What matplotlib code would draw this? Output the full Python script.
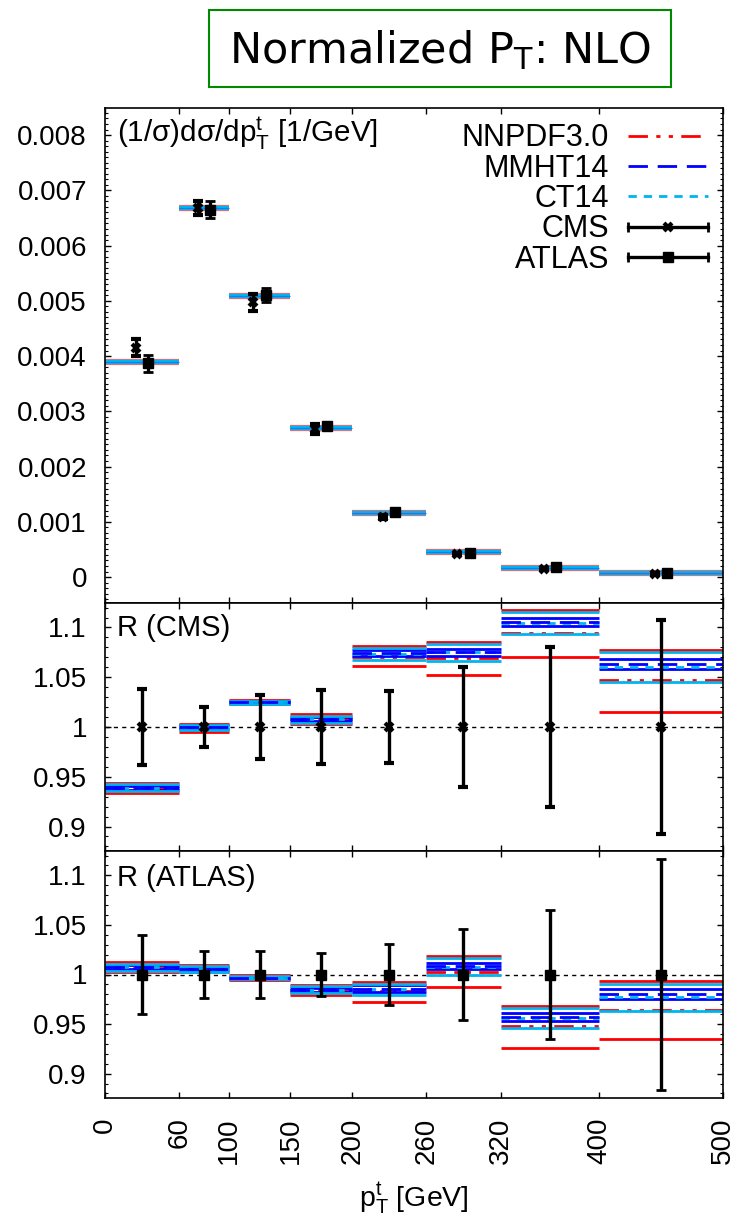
import matplotlib
matplotlib.use("Agg")
import matplotlib.pyplot as plt
from matplotlib.lines import Line2D
from matplotlib.legend_handler import HandlerLine2D
from matplotlib.patches import Rectangle
from matplotlib.ticker import MultipleLocator, FormatStrFormatter

plt.rcParams['font.family'] = ['Liberation Sans', 'DejaVu Sans']
plt.rcParams['font.size'] = 20
plt.rcParams['mathtext.fontset'] = 'custom'
plt.rcParams['mathtext.rm'] = 'Liberation Sans'
plt.rcParams['mathtext.it'] = 'Liberation Sans:italic'

# bins in p_T^t [GeV]
edges = [0, 60, 100, 150, 200, 260, 320, 400, 500]
centers = [30, 80, 125, 175, 230, 290, 360, 450]

# main panel: normalized cross section [1/GeV]
th_main = [3.897e-3, 6.68e-3, 5.09e-3, 2.70e-3, 1.164e-3, 0.447e-3, 0.169e-3, 0.066e-3]
cms_val = [4.15e-3, 6.68e-3, 4.97e-3, 2.68e-3, 1.083e-3, 0.416e-3, 0.154e-3, 0.062e-3]
cms_err = [0.158e-3, 0.134e-3, 0.159e-3, 0.099e-3, 0.039e-3, 0.025e-3, 0.012e-3, 0.0067e-3]
atl_val = [3.87e-3, 6.65e-3, 5.11e-3, 2.74e-3, 1.18e-3, 0.443e-3, 0.176e-3, 0.067e-3]
atl_err = [0.155e-3, 0.16e-3, 0.123e-3, 0.060e-3, 0.037e-3, 0.020e-3, 0.0114e-3, 0.0078e-3]

# ratio theory/CMS
cms_nn_c = [0.939, 0.999, 1.025, 1.008, 1.0707, 1.069, 1.0945, 1.047]
cms_nn_lo = [0.934, 0.995, 1.023, 1.003, 1.061, 1.0526, 1.0707, 1.0148]
cms_nn_hi = [0.944, 1.003, 1.027, 1.013, 1.081, 1.085, 1.1176, 1.0774]
cms_mm_c = [0.939, 1.000, 1.025, 1.008, 1.074, 1.075, 1.1055, 1.0637]
cms_mm_lo = [0.937, 0.998, 1.024, 1.006, 1.0717, 1.0717, 1.101, 1.058]
cms_mm_hi = [0.941, 1.002, 1.026, 1.010, 1.077, 1.078, 1.110, 1.0687]
cms_ct_c = [0.939, 1.000, 1.025, 1.008, 1.0736, 1.075, 1.1045, 1.0603]
cms_ct_lo = [0.9355, 0.9965, 1.0235, 1.0045, 1.0676, 1.0667, 1.093, 1.0455]
cms_ct_hi = [0.9425, 1.0025, 1.0265, 1.0115, 1.0795, 1.083, 1.1156, 1.075]
cms_rel = [0.038, 0.020, 0.032, 0.037, 0.036, 0.060, 0.080, 0.108]

# ratio theory/ATLAS
atl_nn_c = [1.007, 1.006, 0.9966, 0.9846, 0.983, 1.0027, 0.9477, 0.9641]
atl_nn_lo = [1.0024, 1.0024, 0.9942, 0.9795, 0.9726, 0.9877, 0.9258, 0.9347]
atl_nn_hi = [1.0126, 1.0096, 0.999, 0.989, 0.992, 1.0188, 0.9685, 0.9938]
atl_mm_c = [1.0075, 1.006, 0.9966, 0.9846, 0.9855, 1.0085, 0.9573, 0.980]
atl_mm_lo = [1.0055, 1.0045, 0.9955, 0.9825, 0.982, 1.0051, 0.9532, 0.975]
atl_mm_hi = [1.0095, 1.0075, 0.9977, 0.9867, 0.989, 1.0113, 0.9607, 0.9853]
atl_ct_c = [1.0075, 1.006, 0.9966, 0.9846, 0.985, 1.008, 0.9565, 0.9778]
atl_ct_lo = [1.004, 1.003, 0.995, 0.981, 0.979, 1.000, 0.946, 0.9634]
atl_ct_hi = [1.011, 1.009, 0.998, 0.988, 0.990, 1.0164, 0.9658, 0.9908]
atl_rel = [0.040, 0.024, 0.024, 0.022, 0.031, 0.046, 0.065, 0.117]

RED, BLUE, CYAN = '#ff0000', '#0000ff', '#00b4f0'
NN_DASH = (0, (7, 3, 1.5, 3, 1.5, 3))
MM_DASH = (0, (7, 3.5))
CT_DASH = (0, (3, 2.5))
shift = 5

fig = plt.figure(figsize=(7.35, 12.18), dpi=100)
L, W = 105 / 735, 618 / 735
ax1 = fig.add_axes([L, 1 - 603 / 1218, W, 495 / 1218])
ax2 = fig.add_axes([L, 1 - 851 / 1218, W, 248 / 1218], sharex=ax1)
ax3 = fig.add_axes([L, 1 - 1098 / 1218, W, 247 / 1218], sharex=ax1)

lo_e, hi_e = edges[:-1], edges[1:]
cms_style = dict(fmt='x', color='k', ms=6, mew=3, elinewidth=2.4,
                 capsize=3.8, capthick=2, zorder=5)
atl_style = dict(fmt='s', color='k', ms=6.5, elinewidth=2.4,
                 capsize=3.8, capthick=2, zorder=5)


def band(ax, c, lo, hi, color, dash, central=True):
    ax.hlines(lo, lo_e, hi_e, color=color, lw=2)
    ax.hlines(hi, lo_e, hi_e, color=color, lw=2)
    if central:
        ax.hlines(c, lo_e, hi_e, color=color, lw=2, linestyles=[dash])


# main panel
ax1.hlines(th_main, lo_e, hi_e, color=RED, lw=4.5, alpha=0.6)
ax1.hlines(th_main, lo_e, hi_e, color=CYAN, lw=3.2)
ax1.hlines(th_main, lo_e, hi_e, color='#3070e0', lw=0.8)
ax1.errorbar([c - shift for c in centers], cms_val, yerr=cms_err, **cms_style)
ax1.errorbar([c + shift for c in centers], atl_val, yerr=atl_err, **atl_style)
ax1.set_ylim(-0.00047, 0.00849)
ax1.yaxis.set_major_locator(MultipleLocator(0.001))
ax1.yaxis.set_minor_locator(MultipleLocator(0.0001))
ax1.yaxis.set_major_formatter(FormatStrFormatter('%g'))
ax1.text(0.02, 0.987, r'(1/σ)dσ/dp$_\mathrm{T}^\mathrm{t}$ [1/GeV]',
         transform=ax1.transAxes, ha='left', va='top', fontsize=21.3)

# ratio panels
ratio_sets = [
    (ax2, 'R (CMS)', cms_nn_c, cms_nn_lo, cms_nn_hi, cms_mm_c, cms_mm_lo, cms_mm_hi,
     cms_ct_c, cms_ct_lo, cms_ct_hi, cms_rel, cms_style, 0.957),
    (ax3, 'R (ATLAS)', atl_nn_c, atl_nn_lo, atl_nn_hi, atl_mm_c, atl_mm_lo, atl_mm_hi,
     atl_ct_c, atl_ct_lo, atl_ct_hi, atl_rel, atl_style, 0.947),
]
for (ax, name, nc, nl, nh, mc, ml, mh, cc, cl, chh, rel, st, ty) in ratio_sets:
    ax.axhline(1.0, color='k', lw=1, ls=(0, (3, 3)), zorder=1)
    band(ax, nc, nl, nh, RED, NN_DASH)
    band(ax, mc, ml, mh, BLUE, MM_DASH, central=False)
    band(ax, cc, cl, chh, CYAN, CT_DASH)
    ax.hlines(mc, lo_e, hi_e, color=BLUE, lw=2, linestyles=[MM_DASH])
    ax.errorbar(centers, [1.0] * len(centers), yerr=rel, **st)
    ax.set_ylim(0.8754, 1.1246)
    ax.set_yticks([0.9, 0.95, 1.0, 1.05, 1.1])
    ax.yaxis.set_minor_locator(MultipleLocator(0.01))
    ax.yaxis.set_major_formatter(FormatStrFormatter('%g'))
    ax.text(0.02, ty, name, transform=ax.transAxes, ha='left', va='top',
            fontsize=21)

for ax in (ax1, ax2, ax3):
    ax.set_xlim(0, 500)
    ax.set_xticks(edges)
    for s in ax.spines.values():
        s.set_linewidth(1.2)
    ax.tick_params(which='both', direction='in', top=True, right=True)
    ax.tick_params(which='major', length=4.5, width=1)
    ax.tick_params(which='minor', length=2.5, width=0.8)
    ax.tick_params(axis='y', pad=13)
for ax in (ax1, ax2):
    ax.tick_params(axis='x', labelbottom=False)
ax3.tick_params(axis='x', labelrotation=90, pad=14)
fig.text(414 / 735, 1 - 1198 / 1218, r'p$_\mathrm{T}^\mathrm{t}$ [GeV]',
         ha='center', va='center', fontsize=20.5)

# legend
h_nn = Line2D([], [], color=RED, lw=2, ls=NN_DASH)
h_mm = Line2D([], [], color=BLUE, lw=2, ls=MM_DASH)
h_ct = Line2D([], [], color=CYAN, lw=2, ls=CT_DASH)
caps1 = Line2D([], [], color='k', lw=2.4, marker='|', ms=7, mew=2)
caps2 = Line2D([], [], color='k', lw=2.4, marker='|', ms=7, mew=2)
m_cms = Line2D([], [], ls='none', color='k', marker='x', ms=6, mew=3)
m_atl = Line2D([], [], ls='none', color='k', marker='s', ms=6.5)
ax1.legend([h_nn, h_mm, h_ct, (caps1, m_cms), (caps2, m_atl)],
           ['NNPDF3.0', 'MMHT14', 'CT14', 'CMS', 'ATLAS'],
           handler_map={caps1: HandlerLine2D(numpoints=2, marker_pad=0),
                        caps2: HandlerLine2D(numpoints=2, marker_pad=0)},
           loc='upper right', bbox_to_anchor=(1.0, 1.0), frameon=False,
           markerfirst=False, handlelength=2.6, handletextpad=0.62,
           labelspacing=0.01, borderaxespad=0, borderpad=0.5, fontsize=22)

# title box
fig.patches.append(Rectangle((209 / 735, 1 - 87 / 1218), 462 / 735, 77 / 1218,
                             transform=fig.transFigure, fill=False,
                             ec='#008a00', lw=1.5))
fig.text(440 / 735, 1 - 50 / 1218, r'Normalized P$_\mathrm{T}$: NLO',
         fontsize=31, family='DejaVu Sans', math_fontfamily='dejavusans',
         ha='center', va='center')

fig.savefig('out.png', dpi=100)
